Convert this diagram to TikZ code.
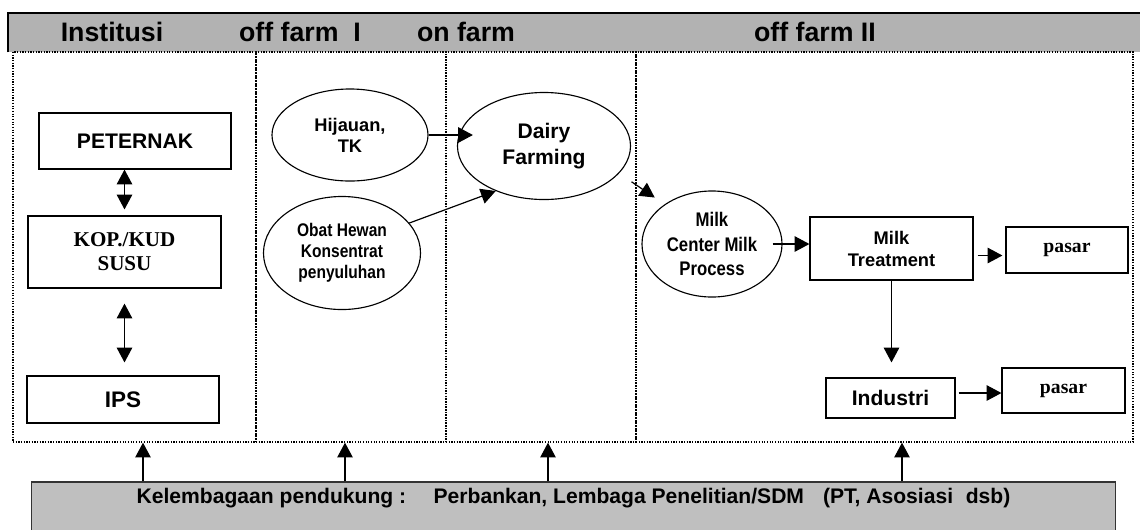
\documentclass[tikz,border=0pt]{standalone}
\usepackage{fontspec}
\setmainfont{Liberation Sans}
\newfontfamily\timesbold{Liberation Serif}
\newfontfamily\narrowsans[FakeStretch=0.85]{Liberation Sans}
\usetikzlibrary{arrows.meta,shapes.geometric}

\begin{document}
\begin{tikzpicture}[x=0.025cm, y=-0.025cm,
  box/.style={draw, line width=0.8pt, rectangle, inner sep=0pt, align=center},
  oval/.style={draw, line width=0.8pt, ellipse, inner sep=0pt, align=center},
  column/.style={draw, densely dotted, line width=0.9pt, inner sep=0pt, minimum height=9.75cm},
  arr/.style={-{Triangle[length=10.5pt,width=11pt]}, line width=0.85pt},
  twoway/.style={{Triangle[length=10.5pt,width=11pt]}-{Triangle[length=10.5pt,width=11pt]}, line width=0.85pt},
  headtext/.style={font=\bfseries\fontsize{19}{21}\selectfont}]
\useasboundingbox (0,0) rectangle (1140,529);
\clip (0,0) rectangle (1140,529);
% header bar
\node (header)[fill=black!30, minimum width=28.55cm, minimum height=0.975cm, inner sep=0pt] at (579,32.5) {};
\draw[line width=1.5pt] (header.south west) -- (header.north west) -- (header.north east);
\node (institusi)[headtext] at (112,32) {Institusi};
\node (offfarmone)[headtext] at (300,32) {off farm~~I};
\node (onfarm)[headtext] at (466,32) {on farm};
\node (offfarmtwo)[headtext] at (815,32) {off farm II};
% columns
\node (col1)[column, minimum width=6.075cm] at (134.5,247) {};
\node (col2)[column, minimum width=4.75cm] at (351,247) {};
\node (col3)[column, minimum width=4.75cm] at (541,247) {};
\node (col4)[column, minimum width=12.425cm] at (884.5,247) {};
% institusi
\node (peternak)[box, minimum width=4.8cm, minimum height=1.4cm, font=\bfseries\fontsize{15}{17}\selectfont] at (135,141) {PETERNAK};
\node (kop)[box, minimum width=4.825cm, minimum height=1.8cm, font=\timesbold\bfseries\fontsize{15}{17}\selectfont] at (124.5,252) {KOP./KUD\\SUSU};
\node (ips)[box, minimum width=4.8cm, minimum height=1.175cm, font=\bfseries\fontsize{16}{18}\selectfont] at (123,399.5) {IPS};
\draw[twoway, shorten <=0.15cm] (kop.north) -- (kop.north |- peternak.south);
\draw[twoway, shorten <=0.375cm, shorten >=0.325cm] (kop.south) -- (kop.south |- ips.north);
% off farm I and on farm
\node (hijauan)[oval, minimum width=3.9cm, minimum height=2.3cm, font=\bfseries\fontsize{13}{15}\selectfont] at (350,135) {Hijauan,\\TK};
\node (obat)[oval, minimum width=3.925cm, minimum height=2.825cm, font=\narrowsans\bfseries\fontsize{13}{15}\selectfont] at (342,253) {Obat Hewan\\Konsentrat\\penyuluhan};
\node (dairy)[oval, minimum width=4.325cm, minimum height=2.675cm, font=\bfseries\fontsize{15}{18}\selectfont] at (544,146) {Dairy\\Farming};
\draw[arr] (hijauan.east) -- ([xshift=0.4cm]hijauan.east -| dairy.west);
\draw[arr] (obat.24) -- (dairy.223);
% off farm II
\node (milkcenter)[oval, minimum width=3.5cm, minimum height=2.65cm, font=\narrowsans\bfseries\fontsize{14}{17.4}\selectfont] at (712,244) {Milk\\Center Milk\\Process};
\node (treatment)[box, minimum width=4.075cm, minimum height=1.575cm, font=\bfseries\fontsize{13}{15.6}\selectfont] at (891.5,248.5) {Milk\\Treatment};
\node (pasar1)[box, minimum width=3.05cm, minimum height=1.15cm, font=\timesbold\bfseries\fontsize{14}{16}\selectfont] at (1067,250) {pasar};
\node (industri)[box, minimum width=3.225cm, minimum height=1cm, font=\bfseries\fontsize{15}{17}\selectfont] at (890.5,398) {Industri};
\node (pasar2)[box, minimum width=3.075cm, minimum height=1.125cm, font=\timesbold\bfseries\fontsize{14}{16}\selectfont] at (1063.5,390.5) {pasar};
\draw[arr, shorten <=0.375cm, shorten >=0.3cm] (dairy.-20) -- (milkcenter.140);
\draw[arr, shorten <=-0.25cm] (milkcenter.east) -- (milkcenter.east -| treatment.west);
\draw[arr, shorten <=0.1cm, shorten >=0.075cm] ([yshift=-0.175cm]treatment.east) -- ([yshift=-0.175cm]treatment.east -| pasar1.west);
\draw[arr, shorten >=0.375cm] (treatment.south) -- (treatment.south |- industri.north);
\draw[arr, shorten <=0.075cm] ([yshift=0.125cm]industri.east) -- ([yshift=0.125cm]industri.east -| pasar2.west);
% supporting institutions
\node (support)[fill=black!25, draw=black!80, line width=0.8pt, minimum width=27.075cm, minimum height=1.45cm, inner sep=0pt] at (573.5,511) {};
\node (supportlabel)[font=\bfseries\fontsize{15}{17}\selectfont] at (573.5,498) {Kelembagaan pendukung :\hspace{1.3em}Perbankan, Lembaga Penelitian/SDM\hspace{0.9em}(PT, Asosiasi\hspace{0.6em}dsb)};
\foreach \c/\dx in {col1/8.5, col2/-6, col3/7, col4/17.5}
  \draw[arr] ([xshift=\dx*0.025cm]\c.south |- support.north) -- ([xshift=\dx*0.025cm]\c.south);
\end{tikzpicture}
\end{document}
